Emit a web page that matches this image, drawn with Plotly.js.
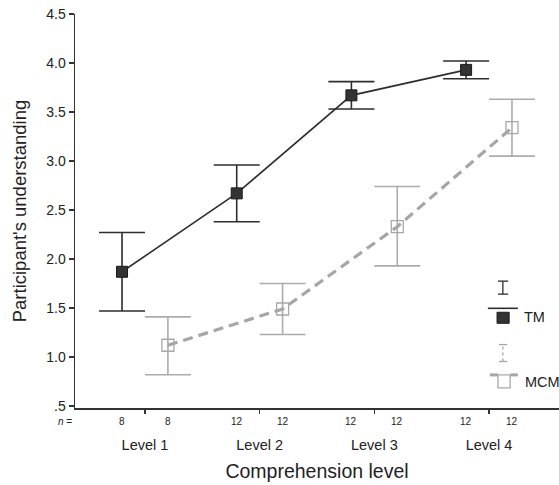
<!DOCTYPE html>
<html>
<head>
<meta charset="utf-8">
<script src="https://cdn.plot.ly/plotly-3.0.1.min.js"></script>
<style>
html,body{margin:0;padding:0;background:#fff;}
#chart{width:559px;height:485px;}
</style>
</head>
<body>
<div id="chart"></div>
<script>
// Data
var levels = ["Level 1", "Level 2", "Level 3", "Level 4"];
var levelPos = [1, 2, 3, 4];
var tmMean = [1.87, 2.67, 3.67, 3.93];
var tmUpper = [2.27, 2.96, 3.81, 4.02];
var tmLower = [1.47, 2.38, 3.53, 3.84];
var mcmMean = [1.12, 1.49, 2.33, 3.34];
var mcmUpper = [1.41, 1.75, 2.74, 3.63];
var mcmLower = [0.82, 1.23, 1.93, 3.05];
var tmN = ["8", "12", "12", "12"];
var mcmN = ["8", "12", "12", "12"];
var yTickVals = [0.5, 1.0, 1.5, 2.0, 2.5, 3.0, 3.5, 4.0, 4.5];
var yTickText = [".5", "1.0", "1.5", "2.0", "2.5", "3.0", "3.5", "4.0", "4.5"];

var offset = 0.2;
var tmX = levelPos.map(function(p){return p - offset;});
var mcmX = levelPos.map(function(p){return p + offset;});

function plus(m, u){return u.map(function(v,i){return +(v - m[i]).toFixed(3);});}
function minus(m, l){return l.map(function(v,i){return +(m[i] - v).toFixed(3);});}

var font = "Arial, 'Liberation Sans', Helvetica, sans-serif";
var dark = "#2e2e2e";
var grey = "#a6a6a6";

var traces = [
  {
    x: tmX, y: tmMean, type: "scatter", mode: "lines+markers", name: "TM",
    line: {color: dark, width: 1.6},
    marker: {symbol: "square", size: 11, color: "#333333", line: {color: "#1a1a1a", width: 1}},
    error_y: {type: "data", symmetric: false, array: plus(tmMean, tmUpper), arrayminus: minus(tmMean, tmLower),
      color: dark, thickness: 1.6, width: 23}
  },
  {
    x: mcmX, y: mcmMean, type: "scatter", mode: "lines+markers", name: "MCM",
    line: {color: grey, width: 3.2, dash: "10px,6px"},
    marker: {symbol: "square-open", size: 12, color: "#a8a8a8", line: {width: 1.3}},
    error_y: {type: "data", symmetric: false, array: plus(mcmMean, mcmUpper), arrayminus: minus(mcmMean, mcmLower),
      color: "#acacac", thickness: 1.6, width: 23}
  }
];

var annotations = [];
annotations.push({x: -0.003, xref: "paper", xanchor: "right", y: -0.035, yref: "paper", yanchor: "middle",
  text: "<i>n</i> =", showarrow: false, font: {family: font, size: 10, color: "#222"}});
for (var i = 0; i < levelPos.length; i++) {
  annotations.push({x: tmX[i], xref: "x", y: -0.035, yref: "paper", yanchor: "middle", text: tmN[i],
    showarrow: false, font: {family: font, size: 10, color: "#222"}});
  annotations.push({x: mcmX[i], xref: "x", y: -0.035, yref: "paper", yanchor: "middle", text: mcmN[i],
    showarrow: false, font: {family: font, size: 10, color: "#222"}});
}
// legend labels
annotations.push({x: 0.924, xref: "paper", xanchor: "left", y: 0.230, yref: "paper", yanchor: "middle",
  text: "TM", showarrow: false, font: {family: font, size: 14.5, color: "#222"}});
annotations.push({x: 0.926, xref: "paper", xanchor: "left", y: 0.066, yref: "paper", yanchor: "middle",
  text: "MCM", showarrow: false, font: {family: font, size: 14.5, color: "#222"}});

// legend icons (paper coordinates)
function seg(x0, y0, x1, y1, color, width, dash) {
  return {type: "line", xref: "paper", yref: "paper", x0: x0, y0: y0, x1: x1, y1: y1,
    line: {color: color, width: width, dash: dash || "solid"}};
}
var shapes = [
  // TM error icon
  seg(0.884, 0.289, 0.884, 0.322, dark, 1.3),
  seg(0.874, 0.289, 0.895, 0.289, dark, 1.3),
  seg(0.874, 0.322, 0.895, 0.322, dark, 1.3),
  // TM line sample
  seg(0.853, 0.253, 0.915, 0.253, dark, 1.6),
  // TM marker
  {type: "rect", xref: "paper", yref: "paper", x0: 0.872, x1: 0.897, y0: 0.215, y1: 0.243,
    fillcolor: "#333", line: {color: "#1a1a1a", width: 1}},
  // MCM error icon
  seg(0.884, 0.118, 0.884, 0.161, grey, 1.3, "dot"),
  seg(0.876, 0.118, 0.893, 0.118, grey, 1.3),
  seg(0.876, 0.161, 0.893, 0.161, grey, 1.3),
  // MCM line sample
  seg(0.857, 0.084, 0.874, 0.084, grey, 3, "solid"),
  seg(0.899, 0.084, 0.915, 0.084, grey, 3, "solid"),
  // MCM marker
  {type: "rect", xref: "paper", yref: "paper", x0: 0.874, x1: 0.899, y0: 0.051, y1: 0.084,
    fillcolor: "rgba(0,0,0,0)", line: {color: "#a8a8a8", width: 1.3}}
];

var layout = {
  width: 559, height: 485,
  margin: {l: 75, r: 0, t: 14, b: 77},
  paper_bgcolor: "#ffffff", plot_bgcolor: "#ffffff",
  font: {family: font, color: "#222"},
  showlegend: false,
  xaxis: {
    range: [0.39, 4.61], tickmode: "array", tickvals: levelPos, ticktext: levels,
    showgrid: false, zeroline: false, showline: true, linecolor: "#333", linewidth: 1.5,
    ticks: "outside", ticklen: 4, tickcolor: "#333", tickwidth: 1.3,
    ticklabelstandoff: 19,
    tickfont: {family: font, size: 14.5, color: "#222"},
    title: {text: "Comprehension level", font: {family: font, size: 19.5, color: "#222"}, standoff: 12}
  },
  yaxis: {
    range: [0.48, 4.5], tickmode: "array", tickvals: yTickVals, ticktext: yTickText,
    showgrid: false, zeroline: false, showline: true, linecolor: "#333", linewidth: 1.5,
    ticks: "outside", ticklen: 5, tickcolor: "#333", tickwidth: 1.3,
    tickfont: {family: font, size: 14, color: "#222"},
    title: {text: "Participant's understanding", font: {family: font, size: 18.5, color: "#222"}, standoff: 15}
  },
  annotations: annotations,
  shapes: shapes
};

Plotly.newPlot("chart", traces, layout, {displayModeBar: false, staticPlot: true});
</script>
</body>
</html>
